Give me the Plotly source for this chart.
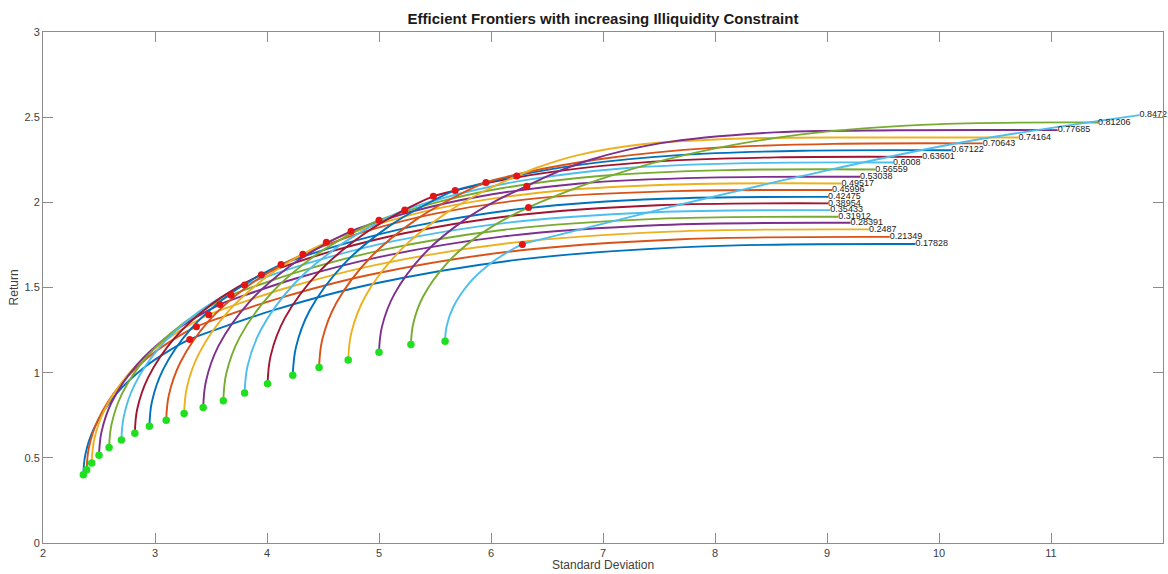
import plotly.graph_objects as go

# Illiquidity constraint level for each frontier (label at the end of each curve)
constraints = ["0.17828", "0.21349", "0.2487", "0.28391", "0.31912", "0.35433", "0.38954",
               "0.42475", "0.45996", "0.49517", "0.53038", "0.56559", "0.6008", "0.63601",
               "0.67122", "0.70643", "0.74164", "0.77685", "0.81206", "0.8472"]

# Minimum-variance portfolio of each frontier
minvar_sd = [2.36, 2.39, 2.435, 2.50, 2.59, 2.70, 2.82, 2.95, 3.10, 3.26,
             3.43, 3.61, 3.80, 4.005, 4.23, 4.465, 4.725, 5.00, 5.285, 5.59]
minvar_ret = [0.40, 0.43, 0.47, 0.515, 0.56, 0.605, 0.645, 0.685, 0.72, 0.76,
              0.795, 0.835, 0.88, 0.935, 0.985, 1.03, 1.075, 1.12, 1.165, 1.185]

# Maximum Sharpe ratio portfolio of each frontier
sharpe_sd = [3.31, 3.37, 3.48, 3.58, 3.68, 3.80, 3.95, 4.125, 4.32, 4.53,
             4.75, 5.00, 5.23, 5.485, 5.68, 5.955, 6.23, 6.32, 6.335, 6.28]
sharpe_ret = [1.195, 1.27, 1.34, 1.40, 1.455, 1.515, 1.575, 1.635, 1.695, 1.765,
              1.83, 1.895, 1.955, 2.035, 2.07, 2.117, 2.154, 2.095, 1.97, 1.753]

# Frontier points (standard deviation, return), one list per constraint level
frontier_sd = [
    [2.36, 2.378, 2.459, 2.657, 2.914, 3.13, 3.31, 3.569, 4.088, 4.93, 6.226, 7.846, 9.79],
    [2.39, 2.409, 2.492, 2.697, 2.961, 3.184, 3.37, 3.618, 4.113, 4.918, 6.156, 7.703, 9.56],
    [2.435, 2.455, 2.544, 2.762, 3.044, 3.281, 3.48, 3.716, 4.187, 4.954, 6.133, 7.607, 9.375],
    [2.50, 2.521, 2.612, 2.838, 3.130, 3.375, 3.58, 3.805, 4.256, 4.988, 6.114, 7.521, 9.21],
    [2.59, 2.611, 2.703, 2.931, 3.225, 3.473, 3.68, 3.897, 4.330, 5.035, 6.119, 7.474, 9.10],
    [2.70, 2.721, 2.814, 3.044, 3.341, 3.591, 3.80, 4.009, 4.428, 5.108, 6.154, 7.461, 9.03],
    [2.82, 2.841, 2.938, 3.174, 3.479, 3.735, 3.95, 4.152, 4.557, 5.215, 6.227, 7.492, 9.01],
    [2.95, 2.972, 3.072, 3.318, 3.635, 3.902, 4.125, 4.320, 4.711, 5.346, 6.323, 7.545, 9.01],
    [3.10, 3.123, 3.227, 3.482, 3.811, 4.088, 4.32, 4.509, 4.887, 5.501, 6.446, 7.628, 9.045],
    [3.26, 3.284, 3.392, 3.658, 4.00, 4.289, 4.53, 4.714, 5.082, 5.68, 6.60, 7.75, 9.13],
    [3.43, 3.455, 3.567, 3.843, 4.20, 4.499, 4.75, 4.932, 5.295, 5.886, 6.795, 7.932, 9.295],
    [3.61, 3.636, 3.755, 4.045, 4.420, 4.736, 5.00, 5.177, 5.532, 6.108, 6.994, 8.101, 9.43],
    [3.80, 3.827, 3.949, 4.248, 4.634, 4.958, 5.23, 5.404, 5.753, 6.32, 7.192, 8.282, 9.59],
    [4.005, 4.033, 4.159, 4.468, 4.868, 5.204, 5.485, 5.66, 6.009, 6.576, 7.449, 8.541, 9.85],
    [4.23, 4.258, 4.381, 4.684, 5.075, 5.405, 5.68, 5.857, 6.212, 6.788, 7.674, 8.781, 10.11],
    [4.465, 4.493, 4.62, 4.931, 5.334, 5.672, 5.955, 6.132, 6.487, 7.064, 7.951, 9.06, 10.39],
    [4.725, 4.754, 4.882, 5.196, 5.602, 5.944, 6.23, 6.409, 6.768, 7.35, 8.246, 9.366, 10.71],
    [5.00, 5.025, 5.137, 5.413, 5.77, 6.069, 6.32, 6.51, 6.889, 7.505, 8.453, 9.638, 11.06],
    [5.285, 5.305, 5.394, 5.614, 5.897, 6.136, 6.335, 6.538, 6.945, 7.606, 8.623, 9.895, 11.42],
    [5.59, 5.603, 5.662, 5.806, 5.992, 6.149, 6.28, 6.50, 6.941, 7.658, 8.76, 10.137, 11.79],
]
frontier_ret = [
    [0.40, 0.519, 0.678, 0.877, 1.036, 1.131, 1.195, 1.259, 1.373, 1.519, 1.662, 1.740, 1.755],
    [0.43, 0.556, 0.724, 0.934, 1.102, 1.203, 1.27, 1.331, 1.438, 1.575, 1.710, 1.783, 1.797],
    [0.47, 0.6005, 0.7745, 0.992, 1.166, 1.270, 1.34, 1.398, 1.500, 1.630, 1.758, 1.828, 1.841],
    [0.515, 0.648, 0.825, 1.046, 1.223, 1.329, 1.40, 1.455, 1.553, 1.677, 1.800, 1.867, 1.88],
    [0.56, 0.694, 0.873, 1.097, 1.276, 1.383, 1.455, 1.508, 1.602, 1.721, 1.839, 1.903, 1.915],
    [0.605, 0.742, 0.924, 1.151, 1.333, 1.442, 1.515, 1.566, 1.655, 1.769, 1.881, 1.942, 1.954],
    [0.645, 0.785, 0.971, 1.203, 1.389, 1.501, 1.575, 1.623, 1.709, 1.817, 1.924, 1.983, 1.994],
    [0.685, 0.8275, 1.0175, 1.255, 1.445, 1.559, 1.635, 1.681, 1.761, 1.865, 1.966, 2.021, 2.032],
    [0.72, 0.866, 1.061, 1.305, 1.50, 1.617, 1.695, 1.745, 1.831, 1.934, 2.026, 2.066, 2.072],
    [0.76, 0.911, 1.112, 1.363, 1.564, 1.685, 1.765, 1.811, 1.890, 1.985, 2.068, 2.106, 2.111],
    [0.795, 0.950, 1.157, 1.416, 1.623, 1.747, 1.83, 1.873, 1.946, 2.033, 2.111, 2.145, 2.15],
    [0.835, 0.994, 1.206, 1.471, 1.683, 1.810, 1.895, 1.935, 2.003, 2.084, 2.156, 2.189, 2.193],
    [0.88, 1.041, 1.256, 1.525, 1.74, 1.869, 1.955, 1.992, 2.056, 2.132, 2.200, 2.230, 2.234],
    [0.935, 1.10, 1.32, 1.595, 1.815, 1.947, 2.035, 2.066, 2.119, 2.182, 2.239, 2.264, 2.267],
    [0.985, 1.148, 1.365, 1.636, 1.853, 1.983, 2.07, 2.101, 2.155, 2.220, 2.277, 2.303, 2.306],
    [1.03, 1.193, 1.41, 1.682, 1.90, 2.03, 2.117, 2.148, 2.20, 2.262, 2.318, 2.343, 2.346],
    [1.075, 1.237, 1.453, 1.722, 1.938, 2.068, 2.154, 2.203, 2.276, 2.341, 2.375, 2.381, 2.381],
    [1.12, 1.266, 1.461, 1.705, 1.90, 2.017, 2.095, 2.156, 2.250, 2.346, 2.408, 2.423, 2.424],
    [1.165, 1.286, 1.447, 1.648, 1.809, 1.906, 1.97, 2.027, 2.129, 2.258, 2.386, 2.456, 2.469],
    [1.185, 1.27, 1.384, 1.526, 1.639, 1.708, 1.753, 1.791, 1.865, 1.982, 2.152, 2.344, 2.512],
]

# MATLAB default line colour order
color_order = ["#0072BD", "#D95319", "#EDB120", "#7E2F8E", "#77AC30", "#4DBEEE", "#A2142F"]

FONT = "Liberation Sans, Arial, sans-serif"

fig = go.Figure()

for i, (sd, ret) in enumerate(zip(frontier_sd, frontier_ret)):
    fig.add_trace(go.Scatter(
        x=sd, y=ret, mode="lines",
        line=dict(color=color_order[i % len(color_order)], width=1.9, shape="spline", smoothing=1.0),
        hoverinfo="skip", showlegend=False,
    ))

fig.add_trace(go.Scatter(
    x=minvar_sd, y=minvar_ret, mode="markers",
    marker=dict(color="#1fe01f", size=7.5, line=dict(width=0)),
    showlegend=False, cliponaxis=False,
))
fig.add_trace(go.Scatter(
    x=sharpe_sd, y=sharpe_ret, mode="markers",
    marker=dict(color="#e31414", size=7, line=dict(width=0)),
    showlegend=False, cliponaxis=False,
))

# Constraint labels at the end of each frontier
fig.add_trace(go.Scatter(
    x=[sd[-1] for sd in frontier_sd], y=[ret[-1] for ret in frontier_ret],
    mode="text", text=constraints, textposition="middle right",
    textfont=dict(family=FONT, size=9, color="#1a1a1a"),
    showlegend=False, cliponaxis=False,
))

axis_style = dict(
    showgrid=False, zeroline=False, showline=True, mirror="ticks",
    linecolor="#8c8c8c", linewidth=1, ticks="inside", ticklen=10, tickwidth=1,
    tickcolor="#8c8c8c",
    tickfont=dict(family=FONT, size=11, color="#404040"),
)

fig.update_layout(
    width=1168, height=574,
    margin=dict(l=43, r=5, t=32, b=31),
    paper_bgcolor="white", plot_bgcolor="white",
    title=dict(
        text="<b>Efficient Frontiers with increasing Illiquidity Constraint</b>",
        x=603 / 1168, xanchor="center", y=1 - 19 / 574, yanchor="middle",
        font=dict(family=FONT, size=15, color="#1a1a1a"),
    ),
    xaxis=dict(range=[2, 12], dtick=1, tick0=2, **axis_style),
    yaxis=dict(range=[0, 3], dtick=0.5, tick0=0, **axis_style),
    annotations=[
        dict(text="Standard Deviation", xref="paper", yref="paper", x=0.5, y=-0.0585,
             xanchor="center", yanchor="bottom", showarrow=False, borderpad=0,
             font=dict(family=FONT, size=12, color="#404040")),
        dict(text="Return", xref="paper", yref="paper", x=-0.026, y=0.5, textangle=-90,
             xanchor="center", yanchor="middle", showarrow=False,
             font=dict(family=FONT, size=12, color="#404040")),
    ],
)

fig.write_html("out.html")
